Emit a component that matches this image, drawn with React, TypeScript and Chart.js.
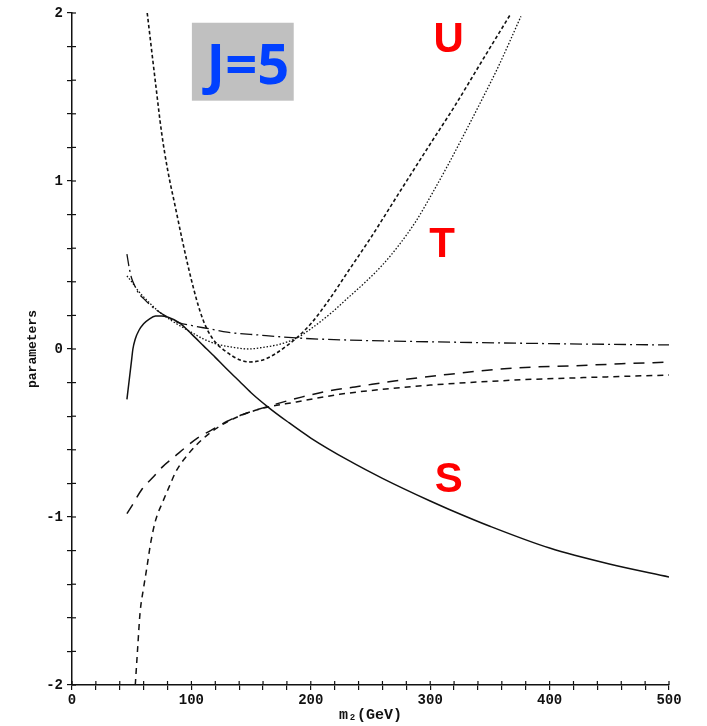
import React, { useEffect, useRef } from "react";
import { Chart, registerables } from "chart.js";

Chart.register(...registerables);

// ---- data (m2 in GeV, parameter values) ----
// S : solid
const sX = [46, 48, 50, 51, 53, 56, 60, 65, 70, 75, 80, 90, 100, 110, 120, 129, 140, 150, 165, 180, 200, 232, 260, 300, 316, 350, 400, 450, 500];
const sY = [-0.30, -0.18, -0.06, 0.0, 0.06, 0.11, 0.15, 0.18, 0.196, 0.197, 0.19, 0.155, 0.09, 0.02, -0.05, -0.115, -0.19, -0.26, -0.35, -0.43, -0.53, -0.665, -0.77, -0.905, -0.955, -1.055, -1.185, -1.28, -1.357];

// dash-dot curve
const ddX = [46, 48, 50, 53, 56, 60, 65, 70, 80, 90, 100, 115, 130, 157, 190, 232, 300, 400, 500];
const ddY = [0.565, 0.48, 0.42, 0.37, 0.33, 0.30, 0.265, 0.235, 0.19, 0.155, 0.14, 0.12, 0.10, 0.083, 0.065, 0.053, 0.043, 0.032, 0.024];

// T : fine dotted
const tX = [46, 50, 55, 60, 70, 80, 90, 100, 110, 121, 135, 148, 160, 175, 188, 200, 218, 232, 246, 260, 274, 288, 302, 316, 330, 343, 357, 376];
const tY = [0.435, 0.40, 0.35, 0.31, 0.24, 0.185, 0.14, 0.10, 0.06, 0.03, 0.01, 0.0, 0.01, 0.03, 0.065, 0.12, 0.22, 0.31, 0.40, 0.50, 0.62, 0.76, 0.93, 1.11, 1.30, 1.48, 1.68, 1.98];

// U : coarse dotted
const uX = [63, 65, 70, 75, 80, 87, 92, 97, 102, 107, 112, 117, 122, 128, 135, 142, 149, 160, 170, 180, 188, 200, 215, 232, 250, 274, 300, 320, 343, 367];
const uY = [2.0, 1.88, 1.58, 1.29, 1.07, 0.83, 0.66, 0.50, 0.355, 0.23, 0.135, 0.07, 0.025, -0.01, -0.045, -0.068, -0.077, -0.065, -0.03, 0.02, 0.065, 0.15, 0.29, 0.47, 0.66, 0.93, 1.22, 1.44, 1.71, 1.99];

// long dashed curve
const ldX = [46, 50, 59, 67, 76, 86, 96, 105, 115, 130, 143, 165, 193, 218, 237, 270, 310, 371, 420, 460, 500];
const ldY = [-0.98, -0.935, -0.83, -0.77, -0.70, -0.64, -0.58, -0.53, -0.49, -0.43, -0.39, -0.34, -0.285, -0.245, -0.226, -0.19, -0.155, -0.113, -0.10, -0.088, -0.078];

// short dashed curve
const sdX = [53, 55, 57, 60, 62.5, 66, 70, 76, 82, 87, 98, 112, 131, 156, 188, 224, 260, 300, 371, 430, 500];
const sdY = [-2.0, -1.78, -1.57, -1.42, -1.31, -1.15, -1.02, -0.91, -0.81, -0.73, -0.62, -0.52, -0.43, -0.36, -0.315, -0.27, -0.24, -0.215, -0.185, -0.17, -0.155];

const xTickLabels = ["0", "100", "200", "300", "400", "500"];
const yTickLabels = ["-2", "-1", "0", "1", "2"];

const curveLabels = ["S", "T", "U"];
const curveLabelPos = [
  [315.5, -0.851],
  [310, 0.548],
  [315.5, 1.768],
];
const boxLabel = "J=5";
const boxRange = [100.4, 185.7, 1.478, 1.942];
const boxLabelPos = [147.3, 1.577];

const pts = (xs: number[], ys: number[]) => xs.map((x, i) => ({ x, y: ys[i] }));

const innerTicks = {
  id: "innerTicks",
  afterDraw(chart: any) {
    const { ctx, chartArea, scales } = chart;
    ctx.save();
    ctx.strokeStyle = "#111";
    ctx.lineWidth = 1.2;
    scales.x.ticks.forEach((t: any) => {
      const p = scales.x.getPixelForValue(t.value);
      ctx.beginPath();
      ctx.moveTo(p, chartArea.bottom);
      ctx.lineTo(p, chartArea.bottom - 4);
      ctx.stroke();
    });
    scales.y.ticks.forEach((t: any) => {
      const p = scales.y.getPixelForValue(t.value);
      ctx.beginPath();
      ctx.moveTo(chartArea.left, p);
      ctx.lineTo(chartArea.left + 4, p);
      ctx.stroke();
    });
    ctx.restore();
  },
};

const annotations = {
  id: "annotations",
  afterDatasetsDraw(chart: any) {
    const { ctx, scales } = chart;
    const xs = scales.x;
    const ys = scales.y;
    ctx.save();
    // J=5 box
    const x0 = xs.getPixelForValue(boxRange[0]);
    const x1 = xs.getPixelForValue(boxRange[1]);
    const y0 = ys.getPixelForValue(boxRange[3]);
    const y1 = ys.getPixelForValue(boxRange[2]);
    ctx.fillStyle = "#c0c0c0";
    ctx.fillRect(x0, y0, x1 - x0, y1 - y0);
    ctx.fillStyle = "#0040ff";
    ctx.font = "bold 56px 'Open Sans', 'Liberation Sans', sans-serif";
    ctx.textAlign = "center";
    ctx.textBaseline = "alphabetic";
    ctx.fillText(boxLabel, xs.getPixelForValue(boxLabelPos[0]), ys.getPixelForValue(boxLabelPos[1]));
    // S T U
    ctx.fillStyle = "#ff0000";
    ctx.font = "bold 42px 'Liberation Sans', Arial, sans-serif";
    curveLabels.forEach((lab, i) => {
      ctx.fillText(lab, xs.getPixelForValue(curveLabelPos[i][0]), ys.getPixelForValue(curveLabelPos[i][1]));
    });
    ctx.restore();
  },
};

export default function App() {
  const ref = useRef<HTMLCanvasElement | null>(null);

  useEffect(() => {
    if (!ref.current) return;
    const black = "#111";
    const base = { pointRadius: 0, fill: false, cubicInterpolationMode: "monotone" as const, borderColor: black };
    const chart = new Chart(ref.current, {
      type: "line",
      data: {
        datasets: [
          { ...base, label: "S", data: pts(sX, sY), borderWidth: 1.5 },
          { ...base, label: "dash-dot", data: pts(ddX, ddY), borderWidth: 1.3, borderDash: [12, 4, 2, 4] },
          { ...base, label: "T", data: pts(tX, tY), borderWidth: 1.3, borderDash: [1.5, 1.8] },
          { ...base, label: "U", data: pts(uX, uY), borderWidth: 1.6, borderDash: [3.5, 2.5] },
          { ...base, label: "long dash", data: pts(ldX, ldY), borderWidth: 1.5, borderDash: [11, 8] },
          { ...base, label: "short dash", data: pts(sdX, sdY), borderWidth: 1.5, borderDash: [6, 5] },
        ] as any,
      },
      options: {
        responsive: false,
        animation: false,
        layout: { padding: { left: 0, right: 38, top: 13, bottom: 0 } },
        plugins: { legend: { display: false }, tooltip: { enabled: false } },
        scales: {
          x: {
            type: "linear",
            min: 0,
            max: 500,
            afterFit: (s: any) => {
              s.height = 41;
            },
            border: { display: true, color: black, width: 1.5 },
            grid: { drawOnChartArea: false, color: black, tickLength: 5, lineWidth: 1.2 },
            ticks: {
              stepSize: 20,
              autoSkip: false,
              maxRotation: 0,
              padding: 2,
              color: black,
              font: { family: "'Liberation Mono', monospace", size: 14, weight: "bold" },
              callback: (v: any) => {
                const n = Number(v);
                if (Math.abs(n % 100) < 1e-6) return xTickLabels[Math.round(n / 100)];
                return "";
              },
            },
            title: {
              display: true,
              text: "m₂(GeV)",
              color: black,
              font: { family: "'Liberation Mono', 'DejaVu Sans Mono', monospace", size: 15, weight: "bold" },
              padding: { top: 0, bottom: 2 },
            },
          },
          y: {
            min: -2,
            max: 2,
            afterFit: (s: any) => {
              s.width = 72;
            },
            border: { display: true, color: black, width: 1.5 },
            grid: { drawOnChartArea: false, color: black, tickLength: 5, lineWidth: 1.2 },
            ticks: {
              stepSize: 0.2,
              autoSkip: false,
              padding: 4,
              color: black,
              font: { family: "'Liberation Mono', monospace", size: 14, weight: "bold" },
              callback: (v: any) => {
                const n = Number(v);
                const r = Math.round(n);
                if (Math.abs(n - r) < 1e-6) return yTickLabels[r + 2];
                return "";
              },
            },
            title: {
              display: true,
              text: "parameters",
              color: black,
              font: { family: "'Liberation Mono', monospace", size: 13, weight: "bold" },
              padding: { top: 25, bottom: 0 },
            },
          },
        },
      } as any,
      plugins: [innerTicks, annotations],
    });
    return () => chart.destroy();
  }, []);

  return (
    <div style={{ position: "absolute", left: 0, top: 0, width: 707, height: 726, background: "#fff" }}>
      <canvas ref={ref} width={707} height={726} style={{ display: "block" }} />
    </div>
  );
}
